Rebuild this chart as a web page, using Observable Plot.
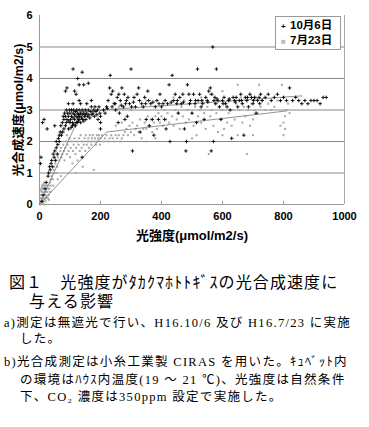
<!DOCTYPE html>
<html><head><meta charset="utf-8">
<script src="https://cdn.jsdelivr.net/npm/d3@7"></script>
<script src="https://cdn.jsdelivr.net/npm/@observablehq/plot@0.6"></script>
<style>
body{margin:0;background:#fff;width:369px;height:427px;overflow:hidden;font-family:"Noto Sans CJK JP",sans-serif;}
#wrap{position:relative;width:369px;height:250px;}
#legend{position:absolute;left:275px;top:16px;width:66px;height:34px;border:1px solid #999;background:#fff;box-sizing:border-box;font:bold 11.5px "Liberation Sans","Noto Sans CJK JP",sans-serif;color:#000;}
#legend div{position:absolute;left:5px;white-space:nowrap;line-height:13px;}
#cap{position:absolute;left:0;top:250px;width:369px;height:177px;color:#000;}
.t{position:absolute;white-space:nowrap;font-family:"Liberation Serif","Noto Sans CJK JP",serif;line-height:1;}
.n{font-size:12.5px;letter-spacing:1.3px;}
.h{font-size:16px;letter-spacing:1.1px;}
</style></head><body>
<div id="wrap"><div id="chart"></div>
<div id="legend">
<div style="top:2px"><span style="font-size:8px;display:inline-block;width:9px">+</span>10月6日</div>
<div style="top:17px"><span style="color:#bbb;font-size:8px;display:inline-block;width:9px">■</span>7月23日</div>
</div></div>
<div id="cap">
<div class="t h" style="left:9px;top:25px">図１　光強度がﾀｶｸﾏﾎﾄﾄｷﾞｽの光合成速度に</div>
<div class="t h" style="left:12px;top:44px">　与える影響</div>
<div class="t n" style="left:4px;top:67px">a)測定は無遮光で行い、H16.10/6 及び H16.7/23 に実施</div>
<div class="t n" style="left:20px;top:83px">した。</div>
<div class="t n" style="left:4px;top:106px">b)光合成測定は小糸工業製 CIRAS を用いた。ｷｭﾍﾞｯﾄ内</div>
<div class="t n" style="left:20px;top:124px">の環境はﾊｳｽ内温度(19 ～ 21 ℃)、光強度は自然条件</div>
<div class="t n" style="left:20px;top:141px">下、CO₂ 濃度は350ppm 設定で実施した。</div>
</div>
<script>
const xTicks = [0, 200, 400, 600, 800, 1000];
const yTicks = [0, 1, 2, 3, 4, 5, 6];
const gridY = [1, 2, 3, 4, 5];
const xLabel = "光強度(μmol/m2/s)";
const yLabel = "光合成速度(μmol/m2/s)";

const oct6 = [
[5,1.5],[3,1.3],[10,2.6],[15,2.7],[25,2.4],[8,0.1],[12,0.3],[18,0.5],[22,0.7],[28,0.9],[30,1.0],[33,1.2],[35,1.1],[38,1.3],[40,1.4],[42,1.2],[45,1.6],[48,1.5],[50,1.7],[52,1.4],[55,1.8],[55,2.0],[58,1.6],[60,1.9],[62,2.1],[65,2.2],[65,2.0],[68,2.3],[70,2.5],[72,2.2],[75,2.6],[75,2.3],[78,2.8],[80,2.4],[80,2.7],[82,2.9],[85,2.5],[85,2.8],[88,3.0],[88,2.6],[90,2.7],[92,2.9],[95,2.4],[95,2.8],[98,3.0],[100,2.6],[100,2.9],
[102,2.7],[105,2.8],[105,3.0],[108,2.6],[110,2.9],[110,2.75],[112,3.0],[115,2.7],[115,2.85],[118,2.95],[120,2.6],[120,2.8],[122,3.0],[125,2.75],[125,2.9],[128,2.85],[130,2.7],[130,3.0],[132,2.8],[135,2.9],[138,2.75],[140,2.85],[140,3.0],[142,2.7],[145,2.9],[148,2.8],[150,3.0],[150,2.85],[152,2.7],[155,2.9],[158,2.8],[160,3.0],[162,2.85],[165,2.75],[168,2.95],[170,3.1],[172,2.85],[175,2.9],[178,3.0],[180,2.8],[182,3.1],[185,2.95],[188,2.85],[190,3.0],[192,2.7],[195,3.1],[198,2.9],[200,2.6],[200,2.4],[200,2.8],
[108,2.5],[112,2.55],[118,2.5],[124,2.6],[96,2.65],[104,2.45],[128,2.65],[135,2.6],[145,2.65],
[85,3.6],[90,3.7],[110,4.3],[115,3.6],[120,3.5],[125,4.0],[130,3.8],[140,4.2],[145,3.8],[160,3.85],[130,3.3],[135,3.2],[155,3.2],[110,3.2],[50,2.5],[95,3.2],[140,1.5],[170,3.3],
[210,3.0],[215,2.9],[220,3.1],[225,3.3],[230,3.7],[232,4.1],[235,3.5],[240,3.6],[245,3.2],[250,3.0],[255,3.4],[258,2.6],[260,3.5],[262,2.9],[265,3.3],[270,3.7],[275,3.1],[278,3.5],[280,2.7],[285,3.3],[288,2.8],[290,3.4],[295,3.2],[300,4.3],[302,3.1],[305,1.7],[310,3.4],[315,3.1],[320,3.5],[325,3.7],[330,2.3],[335,3.2],[340,3.1],[345,3.4],[350,2.7],[355,3.6],[358,3.3],[360,2.5],[365,3.2],[370,2.7],[375,2.2],[380,3.1],[385,3.3],[390,2.7],[395,3.5],[400,3.1],[405,3.2],[410,2.7],[415,2.4],[420,3.2],[425,3.8],[428,2.0],[435,4.1],[440,3.3],[445,3.5],[450,3.2],[455,2.9],[460,3.4],[465,3.2],[470,3.5],[475,2.4],[480,1.7],[482,2.0],[485,3.8],[490,3.5],[495,3.3],[500,2.9],[505,3.5],[510,3.2],[515,2.6],[518,4.3],[520,3.3],[525,3.5],[530,3.1],[535,3.2],[540,2.7],[545,3.4],[550,3.3],[555,3.6],[560,3.7],[563,1.7],[565,3.5],[568,5.0],[570,2.0],[572,3.3],[575,3.4],[578,3.2],[580,4.3],[585,3.3],[590,3.1],[595,2.7],[600,3.3],[605,3.4],[610,3.2],[615,3.1],[620,3.3],[625,3.0],[630,2.1],[635,3.4],[640,3.3],[645,3.4],[650,3.1],[655,3.3],[660,3.5],[665,3.2],[670,2.2],[675,3.4],[680,3.3],[685,3.1],[690,3.5],[695,3.4],[700,3.2],[705,3.4],[710,2.9],[715,3.3],[720,3.4],[725,3.5],[730,3.3],[740,3.4],[750,3.5],[760,3.3],[770,3.4],[780,3.5],[790,3.3],[800,3.4],[810,3.3],[820,3.7],[830,3.3],[840,3.4],[850,3.3],[860,3.2],[870,3.3],[880,3.2],[890,3.3],[900,3.3],[910,3.3],[920,3.2],[930,3.4],[940,3.4],
[222,3.05],[238,3.1],[248,3.2],[268,3.15],[282,3.2],[308,3.25],[328,3.3],[348,3.2],[372,3.25],[392,3.2],[412,3.3],[432,3.25],[452,3.3],[472,3.25],[492,3.2],[512,3.3],[532,3.3],[552,3.25],[582,3.35],[602,3.2],[622,3.35],[642,3.25],[662,3.3],[682,3.4],[702,3.3],[722,3.2]
];

const jul23 = [
[2,0.0],[4,0.1],[6,0.2],[8,0.3],[10,0.4],[12,0.5],[14,0.6],[16,0.7],[4,0.3],[6,0.5],[8,0.6],[10,0.1],[12,0.2],[14,0.3],[16,0.4],[18,0.2],[20,0.3],[22,0.5],[24,0.6],[26,0.4],[28,0.2],[30,0.3],[32,0.5],[34,0.7],[36,0.6],[38,0.8],[40,0.9],[42,1.0],[44,0.8],[46,1.1],[48,1.2],[50,1.0],[52,1.3],[55,1.4],[58,1.2],[60,1.5],[62,1.6],[65,1.4],[68,1.7],[70,1.8],[72,1.5],[75,1.6],[78,1.9],[80,1.7],[82,1.4],[85,1.8],[88,2.0],[90,1.6],[92,1.9],[95,1.7],[98,2.1],[100,1.5],[102,1.8],[105,2.0],[108,1.3],[110,1.7],[112,1.9],[115,2.1],[118,1.6],[120,1.8],[122,2.0],[125,1.4],[128,1.9],[130,2.1],[132,1.7],[135,2.2],[138,1.8],[140,2.0],[142,1.2],[145,1.9],[148,2.1],[150,1.7],[152,2.2],[155,1.9],[158,2.0],[160,2.1],[162,1.8],[165,2.2],[168,2.0],[170,1.9],[172,2.1],[175,2.2],[178,1.1],[180,2.0],[182,2.1],[185,1.9],[188,2.2],[190,2.0],[192,2.1],[195,2.2],[198,1.9],[200,2.1],[205,2.2],[210,2.0],[215,2.1],[220,2.2],[225,2.0],[230,2.1],[235,2.2],[240,2.1],[245,2.0],[250,2.2],[255,2.1],[260,2.2],[265,2.0],[270,2.1],[275,2.2],[280,2.3],[120,1.0],[100,2.4],[90,2.2],[80,2.3],[70,0.9],[60,0.8],[55,1.0],[45,0.6],[35,0.4],[25,0.2],[20,0.1],[15,0.0],
[5,0.45],[9,0.55],[13,0.65],[17,0.15],[21,0.4],[27,0.6],[3,0.2],[7,0.4],[11,0.05],[19,0.6],[23,0.25],[29,0.5],[31,0.15],
[285,2.4],[290,2.2],[295,2.5],[300,2.3],[305,2.6],[310,2.2],[315,2.4],[320,2.5],[325,2.3],[330,2.7],[335,2.1],[340,2.4],[345,2.6],[350,2.4],[355,2.8],[360,2.5],[365,2.7],[370,2.3],[375,2.6],[380,2.8],[385,2.4],[390,2.9],[395,2.6],[400,2.8],[405,2.5],[410,3.0],[415,2.7],[420,2.9],[425,2.6],[430,3.2],[435,2.8],[440,2.5],[445,3.0],[450,2.7],[455,2.9],[460,2.4],[465,3.1],[470,2.8],[475,3.3],[480,2.6],[485,3.0],[490,2.7],[495,3.2],[500,2.9],[505,2.5],[510,3.1],[515,2.2],[520,2.8],[525,3.0],[530,2.6],[535,3.3],[540,2.9],[545,2.4],[550,3.1],[555,1.6],[560,2.8],[565,3.0],[570,2.5],[575,3.2],[580,2.9],[585,2.3],[590,3.1],[595,2.7],[600,3.0],[605,2.4],[610,3.2],[615,2.6],[620,2.9],[625,3.3],[630,2.5],[635,3.0],[640,2.7],[645,3.2],[650,2.2],[655,3.0],[660,3.4],[665,2.6],[670,3.1],[675,2.8],[680,1.6],[685,3.0],[690,2.5],[695,3.2],[700,2.7],[705,3.0],[710,3.4],[715,2.9],[720,3.8],[725,3.1],[730,3.3],[740,3.0],[750,3.2],[760,3.0],[770,3.1],[780,3.3],[790,2.5],[795,3.8],[800,2.2],[805,2.4],[810,3.0],[815,3.2],[820,2.9],[600,3.6],[650,3.8],[560,3.5],[530,3.4],[440,3.4],[350,3.3],[300,3.0],[260,3.1],[270,2.6],[250,2.5],[800,2.6],[805,2.8],[350,2.0],[380,2.1],[500,2.1],[600,2.2],[700,2.2]
];

const oct6Fit = [[0,0],[110,2.35],[135,2.95],[860,3.45]];
const jul23Fit = [[0,0],[220,2.3],[810,2.97]];

const chart = Plot.plot({
  width: 369, height: 250,
  marginLeft: 39, marginRight: 25, marginTop: 15, marginBottom: 46,
  style: {background: "#fff", overflow: "visible"},
  x: {domain: [0, 1000], ticks: xTicks, tickFormat: d3.format("d")},
  y: {domain: [0, 6], ticks: yTicks, tickFormat: d3.format("d")},
  marks: [
    Plot.ruleY(gridY, {stroke: "#888", strokeWidth: 1}),
    Plot.ruleX([0], {stroke: "#999"}),
    Plot.ruleX([1000], {stroke: "#aaa"}),
    Plot.ruleY([0], {stroke: "#999"}),
    Plot.ruleX(xTicks.slice(1, 5), {y1: 0, y2: 0.1, stroke: "#999"}),
    Plot.dot(jul23, {x: d => d[0], y: d => d[1], symbol: "square", r: 1.15, fill: "#aaa", stroke: "none"}),
    Plot.line(jul23Fit, {x: d => d[0], y: d => d[1], stroke: "#777", strokeWidth: 0.8}),
    Plot.line(oct6Fit, {x: d => d[0], y: d => d[1], stroke: "#777", strokeWidth: 0.8}),
    Plot.dot(oct6, {x: d => d[0], y: d => d[1], symbol: "plus", r: 1.25, stroke: "#000", strokeWidth: 0.9, fill: "none"}),
    Plot.axisX({ticks: xTicks, tickFormat: d3.format("d"), tickSize: 0, tickPadding: 8, fontSize: 11, fontWeight: "bold", label: null}),
    Plot.axisY({ticks: yTicks, tickFormat: d3.format("d"), tickSize: 0, tickPadding: 7, fontSize: 11, fontWeight: "bold", label: null}),
    Plot.text([xLabel], {frameAnchor: "bottom", dy: 35, fontSize: 13, fontWeight: "bold", fill: "#000"}),
    Plot.text([yLabel], {frameAnchor: "left", textAnchor: "middle", dx: -21, rotate: -90, fontSize: 12.5, fontWeight: "bold", fill: "#000"})
  ]
});
d3.select(chart).selectAll("text").style("font-family", "'Liberation Sans','Noto Sans CJK JP',sans-serif");
document.getElementById("chart").appendChild(chart);
</script>
</body></html>
